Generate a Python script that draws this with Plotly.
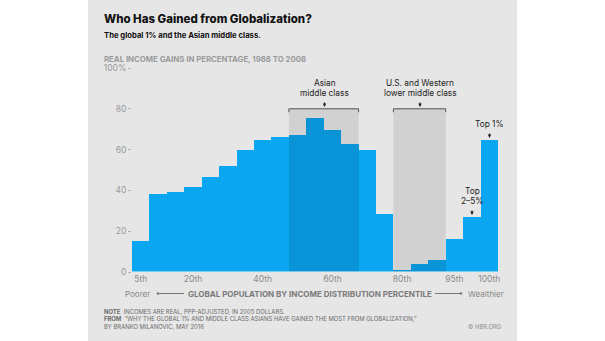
import plotly.graph_objects as go

# ---------------- data ----------------
bar_index = list(range(1, 22))
values = [15, 38.3, 39, 41.8, 46.6, 51.8, 59.8, 64.9, 66, 67.2,
          75.7, 69.8, 62.8, 59.6, 28.2, 1.2, 3.8, 5.7, 16.4, 27, 64.9]
groups = (["base"] * 9 + ["asian"] * 4 + ["base"] * 2 + ["western"] * 3 + ["base"] * 3)
tick_pos = [1, 4, 8, 12, 16, 19, 21]
tick_text = ["5th", "20th", "40th", "60th", "80th", "95th", "100th"]
y_ticks = [0, 20, 40, 60, 80, 100]
y_text = ["0", "20", "40", "60", "80", "100%"]

LIGHT = "#0aa7f0"
DARK = "#0994d8"
BAND = "#d1d1d1"
PANEL = "#e6e6e6"
FONT = "Inter"

colors = [DARK if g != "base" else LIGHT for g in groups]

W, H = 605, 341
L, R, T, B = 132, 107, 68, 69
PW, PH = W - L - R, H - T - B


def X(px):
    return (px - L) / PW


def Y(py):
    return (H - B - py) / PH


fig = go.Figure()
fig.add_trace(go.Bar(x=bar_index, y=values, width=1.0, marker=dict(color=colors, line=dict(width=0)),
                     hoverinfo="x+y"))

shapes = []
# panel
shapes.append(dict(type="rect", xref="paper", yref="paper", x0=X(88), x1=X(517), y0=Y(H), y1=Y(0),
                   fillcolor=PANEL, line=dict(width=0), layer="below"))
# highlight bands and brackets
for x0, x1 in [(9.5, 13.5), (15.5, 18.5)]:
    shapes.append(dict(type="rect", xref="x", yref="y", x0=x0, x1=x1, y0=0, y1=80,
                       fillcolor=BAND, line=dict(width=0), layer="below"))
    shapes.append(dict(type="path", xref="x", yref="y",
                       path=f"M {x0},78.3 L {x0},80 L {x1},80 L {x1},78.3",
                       line=dict(color="#555555", width=1)))
# baseline
shapes.append(dict(type="line", xref="x", yref="y", x0=0.5, x1=21.5, y0=0, y1=0,
                   line=dict(color="#f4f4f4", width=1.2)))
# axis-title lines
shapes.append(dict(type="line", xref="paper", yref="paper", x0=X(158), x1=X(184), y0=Y(293.5), y1=Y(293.5),
                   line=dict(color="#777777", width=1)))
shapes.append(dict(type="line", xref="paper", yref="paper", x0=X(435), x1=X(461), y0=Y(293.5), y1=Y(293.5),
                   line=dict(color="#777777", width=1)))
for cx in (158, 461):
    shapes.append(dict(type="circle", xref="paper", yref="paper", x0=X(cx - 1.3), x1=X(cx + 1.3),
                       y0=Y(293.5 + 1.3), y1=Y(293.5 - 1.3), fillcolor="#777777", line=dict(width=0)))

ann = []


def txt(text, px, py, size, color="#222222", xanchor="left", weight="normal"):
    ann.append(dict(text=text, xref="paper", yref="paper",
                    x=X(px), y=Y(py), xanchor=xanchor, yanchor="middle", showarrow=False,
                    align="left", font=dict(family=FONT, size=size, color=color, weight=weight)))


def arrow(px, py_tip, length=6):
    ann.append(dict(text="", xref="paper", yref="paper", x=X(px), y=Y(py_tip), ax=0, ay=-length,
                    showarrow=True, arrowhead=2, arrowsize=0.7, arrowwidth=1, arrowcolor="#222222"))


txt("Who Has Gained from Globalization?", 102, 19, 11.5, "#111111", weight=800)
txt("The global 1% and the Asian middle class.", 102, 35.5, 7.7, "#111111", weight=700)
txt("REAL INCOME GAINS IN PERCENTAGE, 1988 TO 2008", 102, 59.5, 7.8, "#9a9a9a", weight=700)

txt("Asian", 324.5, 83, 8.3, xanchor="center")
txt("middle class", 324.5, 93, 8.3, xanchor="center")
arrow(324.5, 107)
txt("U.S. and Western", 420, 83, 8.3, xanchor="center")
txt("lower middle class", 420, 93, 8.3, xanchor="center")
arrow(420, 107)
txt("Top 1%", 489.5, 124, 8.3, xanchor="center")
arrow(489.5, 138)
txt("Top", 472, 191, 8.3, xanchor="center")
txt("2–5%", 472, 201, 8.3, xanchor="center")
arrow(472, 215)

txt("Poorer", 152, 293.5, 8.0, "#888888", xanchor="right")
txt("GLOBAL POPULATION BY INCOME DISTRIBUTION PERCENTILE", 310, 293.5, 8.0, "#7a7a7a",
    xanchor="center", weight=700)
txt("Wealthier", 466, 293.5, 8.0, "#888888")

txt("<b>NOTE</b>  INCOMES ARE REAL, PPP-ADJUSTED, IN 2005 DOLLARS.", 102, 311, 5.9, "#6a6a6a")
txt("<b>FROM</b>  “WHY THE GLOBAL 1% AND MIDDLE CLASS ASIANS HAVE GAINED THE MOST FROM GLOBALIZATION,”",
    102, 318.5, 5.9, "#6a6a6a")
txt("BY BRANKO MILANOVIC, MAY 2016", 102, 326, 5.9, "#6a6a6a")
txt("© HBR.ORG", 504, 326, 5.9, "#8a8a8a", xanchor="right")

fig.update_layout(
    width=W, height=H,
    margin=dict(l=L, r=R, t=T, b=B, pad=0),
    paper_bgcolor="white",
    plot_bgcolor="rgba(0,0,0,0)",
    showlegend=False,
    bargap=0,
    shapes=shapes,
    annotations=ann,
    font=dict(family=FONT),
    xaxis=dict(range=[0.5, 21.5], tickvals=tick_pos, ticktext=tick_text, showgrid=False,
               zeroline=False, showline=False, ticks="", fixedrange=True,
               tickfont=dict(family=FONT, size=8.5, color="#8a8a8a")),
    yaxis=dict(range=[0, 100], tickvals=y_ticks, ticktext=y_text, showgrid=False, zeroline=False,
               showline=False, ticks="outside", ticklen=3, tickcolor="#b0b0b0", tickwidth=1,
               fixedrange=True, tickfont=dict(family=FONT, size=8.5, color="#9a9a9a")),
)

fig.write_html("out.html")
